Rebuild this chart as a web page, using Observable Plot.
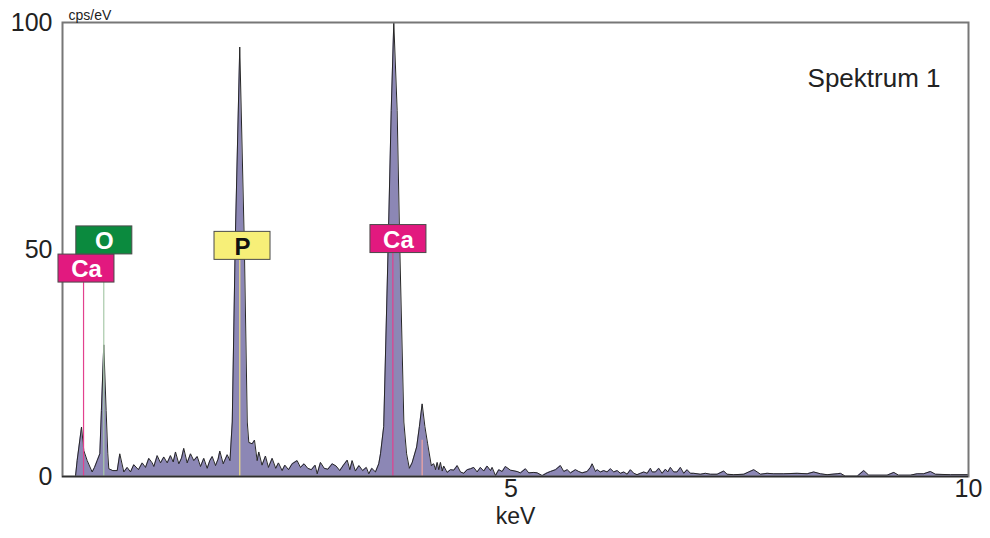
<!DOCTYPE html>
<html>
<head>
<meta charset="utf-8">
<script src="https://cdn.jsdelivr.net/npm/d3@7"></script>
<script src="https://cdn.jsdelivr.net/npm/@observablehq/plot@0.6"></script>
<style>
  html, body { margin: 0; padding: 0; background: #fff; }
  #chart svg { display: block; }
</style>
</head>
<body>
<div id="chart"></div>
<script>
// EDS spectrum: [energy in keV, counts in cps/eV]
const spectrum = [
  [0.20,0],[0.242,0],[0.26,3.5],[0.308,10.9],[0.333,5.7],[0.37,3.5],[0.424,1],[0.45,2],[0.479,3.5],
  [0.508,5],[0.525,14.5],[0.551,29],[0.577,14.5],[0.595,5],[0.606,1.7],
  [0.65,1.3],[0.698,1.3],[0.726,5],[0.77,1],[0.807,2],[0.843,1],[0.879,2.6],[0.93,1.5],[0.971,3],
  [1.007,2],[1.043,4],[1.08,3],[1.098,2.2],[1.135,4.6],[1.171,3],[1.207,4.3],[1.244,3],[1.28,4.6],
  [1.31,3.2],[1.335,5.4],[1.371,2.8],[1.40,4],[1.425,6.2],[1.462,3],[1.499,5],[1.535,3.5],[1.572,4.4],
  [1.608,2.2],[1.644,4],[1.681,1.8],[1.71,3.5],[1.736,4.4],[1.772,2.4],[1.80,3.8],[1.819,5.6],
  [1.856,2.8],[1.90,4.8],[1.93,3.5],
  [1.955,12],[1.988,52],[2.037,94.6],[2.086,52],[2.119,12],
  [2.136,7.5],[2.173,7.2],[2.198,8],[2.227,3.5],[2.245,5.4],[2.28,2.5],[2.318,4.5],[2.35,2],[2.391,4],
  [2.43,1.8],[2.46,3],[2.50,1.3],[2.53,2.5],[2.57,1.5],[2.61,2.8],[2.664,3.5],[2.70,2],[2.74,2.8],
  [2.78,1.8],[2.82,1.5],[2.86,2.5],[2.883,0.6],[2.919,3.1],[2.96,1.8],[3.00,1.6],[3.047,2.8],[3.09,2.3],
  [3.13,1.3],[3.17,2.5],[3.211,3.6],[3.24,1.5],[3.265,3.5],[3.30,1.2],[3.34,2.4],[3.38,1.3],[3.42,2.0],
  [3.447,0.6],[3.48,1.8],[3.52,1],[3.556,2.8],
  [3.575,5],[3.61,11],[3.659,51],[3.692,80.6],[3.72,100],[3.757,80.6],[3.785,51],[3.83,12],[3.86,5],
  [3.89,1.8],[3.92,3],[3.97,6.5],[4.00,11],[4.03,16],[4.06,11],[4.09,7.2],[4.13,2.4],
  [4.157,2.8],[4.176,1.5],[4.194,3.1],[4.212,1.5],[4.23,3.1],[4.249,1.2],[4.266,2.3],[4.303,0.9],
  [4.34,1.5],[4.376,1.4],[4.413,2.4],[4.449,1],[4.485,0.7],[4.522,1.5],[4.558,1.7],[4.594,2],
  [4.631,1],[4.667,2],[4.703,1.2],[4.74,2.3],[4.777,1.3],[4.795,2],[4.831,0.2],[4.867,1.5],[4.904,1.1],
  [4.94,2.2],[4.995,1.4],[5.068,1.1],[5.104,0.8],[5.159,1.7],[5.195,0.8],[5.25,0.9],[5.287,0.8],
  [5.342,0.2],[5.396,0.8],[5.432,1.1],[5.487,1.5],[5.541,2.4],[5.578,1.1],[5.615,1.5],[5.651,0.8],
  [5.705,1.5],[5.741,1.1],[5.778,0.8],[5.833,1.1],[5.869,2],[5.888,2.8],[5.924,1.1],[5.942,1.5],
  [5.978,1.0],[6.015,1.3],[6.051,1.0],[6.088,1.7],[6.124,1.0],[6.161,1.3],[6.197,0.7],[6.234,1.0],
  [6.27,0.5],[6.306,1.5],[6.343,0.7],[6.379,0.4],[6.416,0.7],[6.452,1.0],[6.489,0.7],[6.525,1.8],
  [6.543,1.0],[6.58,1.0],[6.616,1.8],[6.652,0.7],[6.689,1.6],[6.714,1.0],[6.743,2.0],[6.779,1.0],
  [6.816,1.0],[6.852,2.0],[6.889,0.7],[6.925,1.5],[6.962,0.7],[6.998,0.7],[7.071,0.5],[7.126,0.7],
  [7.18,0.5],[7.254,0.5],[7.326,1.2],[7.362,0.5],[7.435,0.4],[7.545,0.5],[7.599,1.0],[7.654,1.5],
  [7.691,1.0],[7.727,0.5],[7.8,0.7],[7.872,0.6],[7.981,0.6],[8.127,0.7],[8.237,0.6],[8.309,1.0],
  [8.382,0.6],[8.455,0.4],[8.565,0.6],[8.601,0.7],[8.656,0.05],[8.783,0.05],[8.856,1.3],[8.91,0.3],
  [9.111,0.3],[9.184,0.9],[9.235,0.3],[9.366,0.3],[9.439,0.6],[9.511,0.6],[9.584,1.1],[9.639,0.5],
  [9.803,0.4],[10.0,0.4]
];

// Identified lines: element, line energy (keV), top of the marker (cps/eV)
const peakElement = ["Ca", "O", "P", "Ca", "Ca"];
const peakLine    = ["L", "K", "K", "Kα", "Kβ"];
const peakKev     = [0.33, 0.551, 2.037, 3.71, 4.03];
const markerTop   = [42.7, 48.9, 47.6, 49.2, 8];

// Element tags (centre of each tag, in keV and cps/eV)
const tagText = ["Ca", "O", "P", "Ca"];
const tagKev  = [0.362, 0.557, 2.067, 3.771];
const tagCps  = [45.8, 52.0, 50.8, 52.3];

const yTicks = [0, 50, 100];
const xTicks = [5, 10];
const title = "Spektrum 1";
const yUnit = "cps/eV";
const xUnit = "keV";

// Styling
const tagFill  = {Ca: "#e2197f", O: "#0b8a3e", P: "#f7ef78"};
const tagInk   = {Ca: "#ffffff", O: "#ffffff", P: "#111111"};
const lineInk  = {Ca: "#e2418e", O: "#a9c9aa", P: "#efdf8a"};
const font = "'Liberation Sans', Arial, Helvetica, sans-serif";

const markers = peakKev.map((k, i) => ({
  element: peakElement[i], line: peakLine[i], kev: k, top: markerTop[i]
}));
const tags = tagText.map((t, i) => ({text: t, kev: tagKev[i], cps: tagCps[i]}));

const W = 990, H = 538;
const mL = 62, mR = 22, mT = 22, mB = 62;
const xDomain = [0.1, 10], yDomain = [0, 100];
// tag box size: 56 x 28 px, expressed in data units
const halfW = 28 * (xDomain[1] - xDomain[0]) / (W - mL - mR);
const halfH = 14 * (yDomain[1] - yDomain[0]) / (H - mT - mB);

const chart = Plot.plot({
  width: W,
  height: H,
  marginLeft: mL,
  marginRight: mR,
  marginTop: mT,
  marginBottom: mB,
  style: {fontFamily: font, background: "#fff", color: "#222"},
  x: {domain: xDomain, axis: null},
  y: {domain: yDomain, axis: null},
  marks: [
    Plot.areaY(spectrum, {x: d => d[0], y: d => d[1], fill: "#8c87b5", curve: "linear"}),
    Plot.lineY(spectrum, {x: d => d[0], y: d => d[1], stroke: "#262626", strokeWidth: 1, curve: "linear"}),
    Plot.ruleX(markers, {
      x: "kev", y1: 0, y2: "top",
      stroke: d => d.line === "Kβ" ? "#f3a7a3" : lineInk[d.element],
      strokeWidth: 1.2
    }),
    Plot.frame({stroke: "#777", strokeWidth: 2}),
    Plot.ruleY([0], {stroke: "#2e2e2e", strokeWidth: 1.5}),
    Plot.rect(tags, {
      x1: d => d.kev - halfW, x2: d => d.kev + halfW,
      y1: d => d.cps - halfH, y2: d => d.cps + halfH,
      fill: d => tagFill[d.text], stroke: "#4a4a4a", strokeWidth: 1
    }),
    Plot.text(tags, {
      x: "kev", y: "cps", text: "text", dy: 1,
      fill: d => tagInk[d.text], fontSize: 24, fontWeight: "bold"
    }),
    Plot.axisY(yTicks, {tickSize: 0, tickPadding: 10, fontSize: 25, label: null, fill: "#222"}),
    Plot.axisX(xTicks, {tickSize: 0, tickPadding: 3, fontSize: 25, label: null, fill: "#222"}),
    Plot.text([yUnit], {frameAnchor: "top-left", dx: 6, dy: -3, lineAnchor: "bottom", textAnchor: "start", fontSize: 14, fill: "#222"}),
    Plot.text([xUnit], {frameAnchor: "bottom", dy: 47, fontSize: 23, fill: "#222"}),
    Plot.text([title], {frameAnchor: "top-right", dx: -28, dy: 46, textAnchor: "end", fontSize: 26, fill: "#222"})
  ]
});

document.getElementById("chart").append(chart);
</script>
</body>
</html>
